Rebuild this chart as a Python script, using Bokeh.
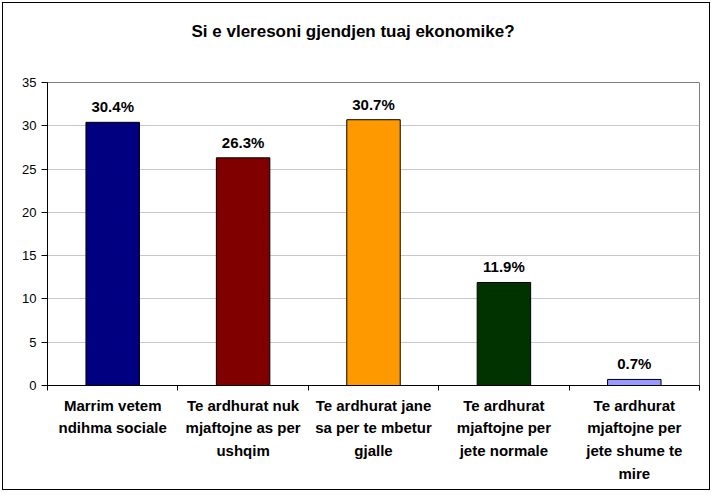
from bokeh.plotting import figure
from bokeh.models import ColumnDataSource, FixedTicker, Range1d, LinearAxis, Title
from bokeh.core.properties import value
from bokeh.embed import file_html
from bokeh.resources import INLINE

title = "Si e vleresoni gjendjen tuaj ekonomike?"
categories = [
    "Marrim vetem\nndihma sociale",
    "Te ardhurat nuk\nmjaftojne as per\nushqim",
    "Te ardhurat jane\nsa per te mbetur\ngjalle",
    "Te ardhurat\nmjaftojne per\njete normale",
    "Te ardhurat\nmjaftojne per\njete shume te\nmire",
]
values = [30.4, 26.3, 30.7, 11.9, 0.7]
colors = ["#000080", "#800000", "#FF9900", "#003300", "#9999FF"]
y_ticks = [0, 5, 10, 15, 20, 25, 30, 35]

xs = [i + 0.5 for i in range(len(values))]
src = ColumnDataSource(dict(x=xs, top=values, color=colors,
                            label=[f"{v:.1f}%" for v in values]))

FONT = "Liberation Sans"

p = figure(width=708, height=488, output_backend="svg", toolbar_location=None,
           x_range=Range1d(0, len(values)), y_range=Range1d(0, 35),
           min_border_left=44, min_border_right=12, min_border_top=79,
           min_border_bottom=106, x_axis_location=None, y_axis_location=None)
p.styles = {"border": "1px solid black", "margin-left": "2px", "margin-top": "2px"}

# spacer between title and plot area
spacer = Title(text=" ", text_font_size="1px", standoff=39)
p.add_layout(spacer, "above")

p.title.text = title
p.title.text_font = FONT
p.title.text_font_size = "17px"
p.title.text_font_style = "bold"
p.title.text_color = "black"
p.title.align = "left"
p.title.offset = 144
p.title.vertical_align = "bottom"
p.title.standoff = 0

p.outline_line_color = "#808080"
p.background_fill_color = "white"

p.vbar(x="x", top="top", width=0.41, bottom=0, fill_color="color",
       line_color="black", line_width=1, source=src)
p.text(x="x", y="top", text="label", y_offset=-7, text_align="center",
       text_baseline="bottom", text_font=value(FONT), text_font_size="15px",
       text_font_style="bold", text_color="black", source=src)

yax = LinearAxis(ticker=FixedTicker(ticks=y_ticks))
yax.axis_line_color = "black"
yax.major_tick_line_color = "black"
yax.major_tick_out = 6
yax.major_tick_in = 0
yax.minor_tick_line_color = None
yax.major_label_text_font = FONT
yax.major_label_text_font_size = "13px"
yax.major_label_text_color = "black"
yax.major_label_standoff = 5
p.add_layout(yax, "left")

xax = LinearAxis(ticker=FixedTicker(ticks=xs, minor_ticks=list(range(len(values) + 1))))
xax.axis_line_color = "black"
xax.major_tick_line_color = None
xax.minor_tick_line_color = "black"
xax.minor_tick_out = 5
xax.minor_tick_in = 0
xax.major_label_overrides = {x: c for x, c in zip(xs, categories)}
xax.major_label_text_font = FONT
xax.major_label_text_font_size = "15px"
xax.major_label_text_font_style = "bold"
xax.major_label_text_color = "black"
xax.major_label_text_line_height = 1.35
xax.major_label_standoff = 5
p.add_layout(xax, "below")

p.xgrid.visible = False
p.ygrid.ticker = FixedTicker(ticks=y_ticks)
p.ygrid.grid_line_color = "#C8C8C8"

open("out.html", "w").write(file_html(p, INLINE))
